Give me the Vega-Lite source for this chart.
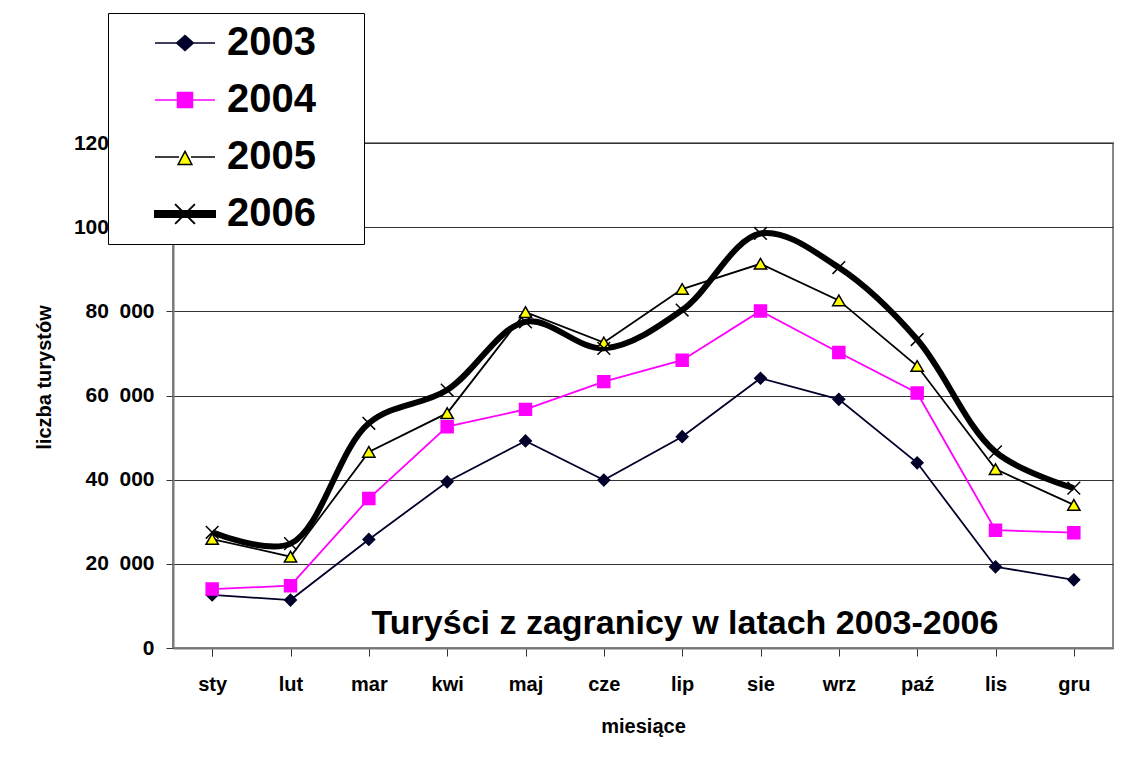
{
  "$schema": "https://vega.github.io/schema/vega-lite/v6.json",
  "width": 940,
  "height": 505,
  "autosize": "none",
  "padding": {"left": 173, "top": 143, "right": 34, "bottom": 119},
  "background": "white",
  "config": {
    "font": "Liberation Sans",
    "view": {"stroke": "#888888", "strokeWidth": 2}
  },
  "title": {
    "text": "Turyści z zagranicy w latach 2003-2006",
    "orient": "bottom",
    "anchor": "middle",
    "frame": "group",
    "font": "Liberation Sans",
    "fontSize": 34,
    "fontWeight": "bold",
    "color": "#000000",
    "baseline": "alphabetic",
    "offset": -102,
    "dx": 42
  },
  "data": {
    "values": [
      {"month": "sty", "year": "2003", "value": 12600},
      {"month": "lut", "year": "2003", "value": 11400},
      {"month": "mar", "year": "2003", "value": 25800},
      {"month": "kwi", "year": "2003", "value": 39500},
      {"month": "maj", "year": "2003", "value": 49200},
      {"month": "cze", "year": "2003", "value": 39900},
      {"month": "lip", "year": "2003", "value": 50200},
      {"month": "sie", "year": "2003", "value": 64100},
      {"month": "wrz", "year": "2003", "value": 59100},
      {"month": "paź", "year": "2003", "value": 44000},
      {"month": "lis", "year": "2003", "value": 19300},
      {"month": "gru", "year": "2003", "value": 16200},
      {"month": "sty", "year": "2004", "value": 14000},
      {"month": "lut", "year": "2004", "value": 14800},
      {"month": "mar", "year": "2004", "value": 35500},
      {"month": "kwi", "year": "2004", "value": 52600},
      {"month": "maj", "year": "2004", "value": 56700},
      {"month": "cze", "year": "2004", "value": 63300},
      {"month": "lip", "year": "2004", "value": 68400},
      {"month": "sie", "year": "2004", "value": 80100},
      {"month": "wrz", "year": "2004", "value": 70200},
      {"month": "paź", "year": "2004", "value": 60600},
      {"month": "lis", "year": "2004", "value": 28000},
      {"month": "gru", "year": "2004", "value": 27400},
      {"month": "sty", "year": "2005", "value": 25900},
      {"month": "lut", "year": "2005", "value": 21700},
      {"month": "mar", "year": "2005", "value": 46600},
      {"month": "kwi", "year": "2005", "value": 55800},
      {"month": "maj", "year": "2005", "value": 79800},
      {"month": "cze", "year": "2005", "value": 72600},
      {"month": "lip", "year": "2005", "value": 85300},
      {"month": "sie", "year": "2005", "value": 91300},
      {"month": "wrz", "year": "2005", "value": 82600},
      {"month": "paź", "year": "2005", "value": 67000},
      {"month": "lis", "year": "2005", "value": 42500},
      {"month": "gru", "year": "2005", "value": 34000},
      {"month": "sty", "year": "2006", "value": 27500},
      {"month": "lut", "year": "2006", "value": 24800},
      {"month": "mar", "year": "2006", "value": 53400},
      {"month": "kwi", "year": "2006", "value": 61300},
      {"month": "maj", "year": "2006", "value": 77500},
      {"month": "cze", "year": "2006", "value": 71200},
      {"month": "lip", "year": "2006", "value": 80300},
      {"month": "sie", "year": "2006", "value": 98500},
      {"month": "wrz", "year": "2006", "value": 90400},
      {"month": "paź", "year": "2006", "value": 73300},
      {"month": "lis", "year": "2006", "value": 46600},
      {"month": "gru", "year": "2006", "value": 38000}
    ]
  },
  "encoding": {
    "x": {
      "field": "month",
      "type": "nominal",
      "sort": ["sty", "lut", "mar", "kwi", "maj", "cze", "lip", "sie", "wrz", "paź", "lis", "gru"],
      "scale": {"type": "point", "padding": 0.5},
      "axis": {
        "title": "miesiące",
        "labelAngle": 0,
        "labelFont": "Liberation Sans",
        "labelFontSize": 20,
        "labelFontWeight": "bold",
        "labelColor": "#000000",
        "labelPadding": 18,
        "tickSize": 8,
        "tickColor": "#333333",
        "tickBand": "extent",
        "domainColor": "#777777",
        "domainWidth": 2,
        "grid": false,
        "titleFont": "Liberation Sans",
        "titleFontSize": 20,
        "titleFontWeight": "bold",
        "titleColor": "#000000",
        "titleY": 84,
        "titleBaseline": "alphabetic"
      }
    },
    "y": {
      "field": "value",
      "type": "quantitative",
      "scale": {"domain": [0, 120000], "nice": false},
      "axis": {
        "title": "liczba turystów",
        "values": [0, 20000, 40000, 60000, 80000, 100000, 120000],
        "labelExpr": "datum.value == 0 ? '0' : format(datum.value / 1000, 'd') + '\u2002000'",
        "labelFont": "Liberation Sans",
        "labelFontSize": 21,
        "labelFontWeight": "bold",
        "labelColor": "#000000",
        "labelPadding": 12,
        "tickSize": 7,
        "tickColor": "#333333",
        "domainColor": "#777777",
        "domainWidth": 2,
        "grid": true,
        "gridColor": "#333333",
        "gridWidth": 1,
        "titleFont": "Liberation Sans",
        "titleFontSize": 20,
        "titleFontWeight": "bold",
        "titleColor": "#000000",
        "titleX": -123,
        "titleY": 234,
        "titleAngle": 270,
        "titleAlign": "center",
        "titleBaseline": "alphabetic"
      }
    }
  },
  "layer": [
    {
      "transform": [{"filter": "datum.year != '2006'"}],
      "mark": {"type": "line", "strokeWidth": 1.8},
      "encoding": {
        "color": {
          "field": "year",
          "type": "nominal",
          "scale": {"domain": ["2003", "2004", "2005", "2006"], "range": ["#00002a", "#ff00ff", "#000000", "#000000"]},
          "legend": {
            "orient": "none",
            "legendX": -65,
            "legendY": -130,
            "title": null,
            "fillColor": "white",
            "strokeColor": "#000000",
            "padding": 10,
            "symbolSize": 3600,
            "symbolType": "stroke",
            "symbolOffset": 47,
            "labelFont": "Liberation Sans",
            "labelFontSize": 40,
            "labelFontWeight": "bold",
            "labelColor": "#000000",
            "labelOffset": 22,
            "labelLimit": 400,
            "rowPadding": 17,
            "zindex": 5,
            "encode": {
              "symbols": {
                "update": {
                  "shape": {"signal": "datum.value === '2003' ? 'M-1,0L1,0M-0.28,0L0,-0.25L0.28,0L0,0.25ZM5.5,0' : datum.value === '2004' ? 'M-1,0L1,0M-0.25,-0.25L0.25,-0.25L0.25,0.25L-0.25,0.25ZM5.5,0' : datum.value === '2005' ? 'M-1,0L-0.2,0M0.2,0L1,0M-0.23,0.25L0.23,0.25L0,-0.19ZM5.5,0' : 'M-1,-0.1L1,-0.1L1,0.1L-1,0.1ZM-0.33,-0.33L0.33,0.33M-0.33,0.33L0.33,-0.33M5.5,0'"},
                  "fill": {"signal": "datum.value === '2003' ? '#00002a' : datum.value === '2004' ? '#ff00ff' : datum.value === '2005' ? '#ffff00' : '#000000'"},
                  "strokeWidth": {"signal": "datum.value === '2006' ? 2 : 1.5"}
                }
              }
            }
          }
        }
      }
    },
    {
      "transform": [{"filter": "datum.year == '2006'"}],
      "mark": {"type": "line", "strokeWidth": 6, "interpolate": "catmull-rom"},
      "encoding": {
        "color": {"field": "year", "type": "nominal"}
      }
    },
    {
      "mark": {"type": "point", "filled": true, "opacity": 1, "strokeWidth": 1.5},
      "encoding": {
        "stroke": {
          "field": "year",
          "type": "nominal",
          "scale": {"range": ["#00002a", "#ff00ff", "#000000", "#000000"]},
          "legend": null
        },
        "shape": {
          "field": "year",
          "type": "nominal",
          "scale": {"range": ["diamond", "square", "triangle-up", "M-1,-1L1,1M-1,1L1,-1"]},
          "legend": null
        },
        "fill": {
          "field": "year",
          "type": "nominal",
          "scale": {"range": ["#00002a", "#ff00ff", "#ffff00", "transparent"]},
          "legend": null
        },
        "size": {
          "field": "year",
          "type": "nominal",
          "scale": {"range": [135, 160, 160, 370]},
          "legend": null
        }
      }
    }
  ]
}
